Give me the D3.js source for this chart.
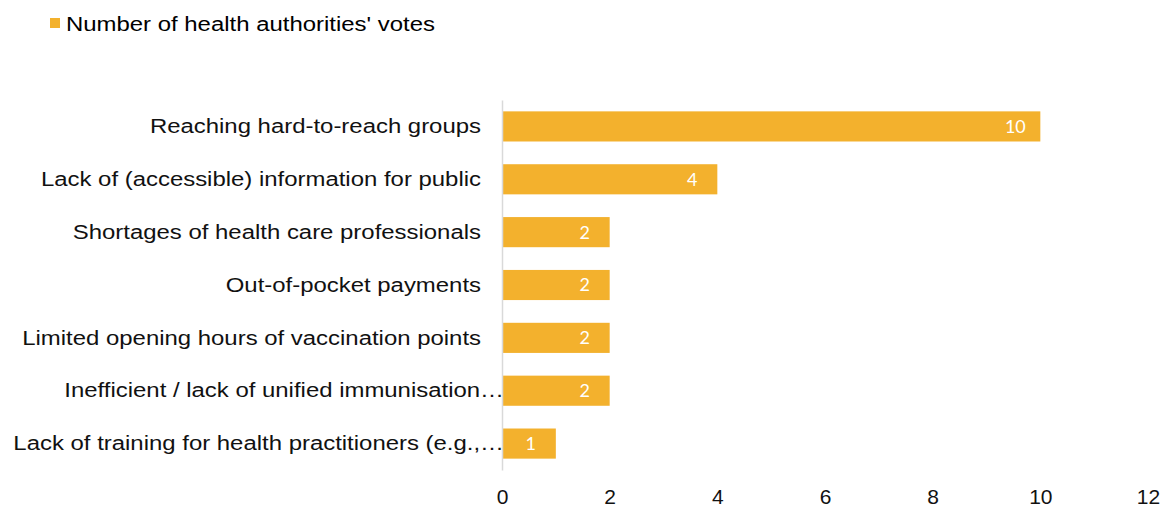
<!DOCTYPE html>
<html>
<head>
<meta charset="utf-8">
<script src="https://cdn.jsdelivr.net/npm/d3@7"></script>
<style>
  body { margin: 0; background: #fff; }
  svg { display: block; font-family: "Liberation Sans", Arial, sans-serif; }
</style>
</head>
<body>
<svg id="chart" width="1165" height="508"></svg>
<script>
var categories = [
  "Reaching hard-to-reach groups",
  "Lack of (accessible) information for public",
  "Shortages of health care professionals",
  "Out-of-pocket payments",
  "Limited opening hours of vaccination points",
  "Inefficient / lack of unified immunisation\u2026",
  "Lack of training for health practitioners (e.g.,\u2026"
];
var votes = [10, 4, 2, 2, 2, 2, 1];
var xTicks = [0, 2, 4, 6, 8, 10, 12];
var seriesName = "Number of health authorities' votes";
var barColor = "#F3B12D";
var stretch = 1.14; // the reference text is a bit wider than Arial

const svg = d3.select("#chart"),
  margin = {top: 100, right: 17, bottom: 38, left: 502},
  width  = +svg.attr("width") - margin.left - margin.right,
  height = +svg.attr("height") - margin.top - margin.bottom;

var x = d3.scaleLinear().domain([0, 12]).range([margin.left, margin.left + width]);
var y = d3.scaleBand().domain(categories).range([margin.top, margin.top + height]).paddingInner(0.43).paddingOuter(0.215);

// legend
svg.append("rect").attr("x", 50).attr("y", 18).attr("width", 10).attr("height", 10).attr("fill", barColor);
svg.append("text")
  .attr("transform", "translate(66,31) scale(" + stretch + ",1)")
  .style("font-size", "21px").attr("fill", "#000").text(seriesName);

// bars
svg.selectAll("rect.bar")
  .data(votes)
  .enter()
  .append("rect")
  .attr("class", "bar")
  .attr("x", x(0))
  .attr("y", function (d, i) { return y(categories[i]); })
  .attr("width", function (d) { return x(d) - x(0); })
  .attr("height", y.bandwidth())
  .attr("fill", barColor);

// value labels inside bars
svg.selectAll("text.val")
  .data(votes)
  .enter()
  .append("text")
  .attr("class", "val")
  .attr("x", function (d) { return x(d) - 25; })
  .attr("y", function (d, i) { return y(categories[i]) + y.bandwidth() / 2; })
  .attr("dy", "0.36em")
  .attr("text-anchor", "middle")
  .style("font-family", "Lato, 'Open Sans', sans-serif")
  .style("font-size", "18px")
  .attr("fill", "#fff")
  .text(function (d) { return d; });

// category axis (truncated labels run up to the axis line, like excel does)
var yAxis = svg.append("g")
  .attr("transform", "translate(" + margin.left + ",0)")
  .call(d3.axisLeft(y).tickSize(0).tickPadding(21));
yAxis.select(".domain").attr("stroke", "#d9d9d9").attr("stroke-width", 1.5);
yAxis.selectAll("text")
  .attr("x", 0)
  .attr("transform", function (d) {
    var pad = d.slice(-1) === "\u2026" ? -2 : 21;
    return "translate(" + (-pad) + ",0) scale(" + stretch + ",1)";
  })
  .style("font-size", "21px").style("font-family", "'Liberation Sans', Arial, sans-serif").attr("fill", "#111");

// value axis (labels only)
var xAxis = svg.append("g")
  .attr("transform", "translate(0," + (margin.top + height) + ")")
  .call(d3.axisBottom(x).tickValues(xTicks).tickSize(0).tickPadding(19));
xAxis.select(".domain").remove();
xAxis.selectAll("text").style("font-size", "21px").style("font-family", "'Liberation Sans', Arial, sans-serif").attr("fill", "#111");
</script>
</body>
</html>
